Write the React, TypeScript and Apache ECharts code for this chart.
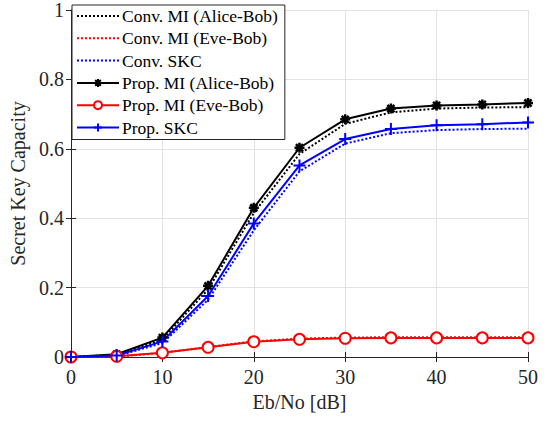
import React, { useEffect, useRef } from "react";
import * as echarts from "echarts";

const ebNo = [0, 5, 10, 15, 20, 25, 30, 35, 40, 45, 50];
const convMIAB = [0, 0.006, 0.05, 0.195, 0.415, 0.585, 0.672, 0.705, 0.716, 0.719, 0.72];
const convMIEB = [0, 0.001, 0.012, 0.029, 0.045, 0.053, 0.056, 0.057, 0.057, 0.057, 0.057];
const convSKC = [0, 0.003, 0.04, 0.165, 0.365, 0.535, 0.615, 0.645, 0.654, 0.657, 0.658];
const propMIAB = [0, 0.008, 0.056, 0.205, 0.43, 0.603, 0.685, 0.716, 0.725, 0.728, 0.732];
const propMIEB = [0, 0.002, 0.012, 0.028, 0.044, 0.051, 0.054, 0.055, 0.055, 0.055, 0.055];
const propSKC = [0, 0.004, 0.045, 0.176, 0.385, 0.552, 0.628, 0.657, 0.668, 0.671, 0.676];

const FONT = "Liberation Serif";
const ASTERISK =
  "path://M50 0 L50 100 M0 50 L100 50 M14.6 14.6 L85.4 85.4 M14.6 85.4 L85.4 14.6";
const PLUS = "path://M50 0 L50 100 M0 50 L100 50";

const pairs = (ys: number[]) => ebNo.map((x, i) => [x, ys[i]]);

export default function App() {
  const ref = useRef<HTMLDivElement>(null);
  useEffect(() => {
    if (!ref.current) return;
    const chart = echarts.init(ref.current, undefined, { renderer: "svg" });
    const axisCommon = {
      axisLine: { show: true, lineStyle: { color: "#262626", width: 1 } },
      axisTick: { show: true, inside: true, length: 5, lineStyle: { color: "#262626" } },
    };
    const dotted = (name: string, data: number[], color: string) => ({
      name,
      type: "line",
      data: pairs(data),
      showSymbol: false,
      symbol: "circle",
      symbolSize: 0,
      lineStyle: { color, width: 2, type: [2, 2] },
      itemStyle: { color: "rgba(0,0,0,0)", borderColor: "rgba(0,0,0,0)", borderWidth: 0 },
      z: 2,
    });
    const labelStyle = { fontFamily: FONT, fontSize: 20, color: "#262626" };
    chart.setOption({
      animation: false,
      backgroundColor: "#fff",
      textStyle: { fontFamily: FONT },
      grid: { left: 71, right: 24, top: 5, bottom: 64, show: false },
      legend: {
        left: 72,
        top: 5,
        orient: "vertical",
        backgroundColor: "#fff",
        borderColor: "#262626",
        borderWidth: 1,
        borderRadius: 0,
        padding: [2, 7, 3, 4],
        itemWidth: 42,
        itemHeight: 10,
        itemGap: 4.3,
        textStyle: {
          fontFamily: FONT,
          fontSize: 17.5,
          lineHeight: 17.5,
          color: "#000",
          padding: [0, 0, 0, -2],
        },
        data: [
          "Conv. MI (Alice-Bob)",
          "Conv. MI (Eve-Bob)",
          "Conv. SKC",
          "Prop. MI (Alice-Bob)",
          "Prop. MI (Eve-Bob)",
          "Prop. SKC",
        ],
      },
      xAxis: [
        {
          type: "value",
          min: 0,
          max: 50,
          interval: 10,
          name: "Eb/No [dB]",
          nameLocation: "middle",
          nameGap: 33,
          nameTextStyle: labelStyle,
          axisLabel: { ...labelStyle, margin: 10 },
          splitLine: { show: true, lineStyle: { color: "#e3e3e3", width: 1 } },
          ...axisCommon,
        },
        {
          type: "value",
          position: "top",
          min: 0,
          max: 50,
          interval: 10,
          axisLabel: { show: false },
          splitLine: { show: false },
          ...axisCommon,
        },
      ],
      yAxis: [
        {
          type: "value",
          min: 0,
          max: 1,
          interval: 0.2,
          name: "Secret Key Capacity",
          nameLocation: "middle",
          nameGap: 39,
          nameTextStyle: labelStyle,
          axisLabel: {
            ...labelStyle,
            margin: 7,
            formatter: (v: number) => String(Math.round(v * 10) / 10),
          },
          splitLine: { show: true, lineStyle: { color: "#e3e3e3", width: 1 } },
          ...axisCommon,
        },
        {
          type: "value",
          position: "right",
          min: 0,
          max: 1,
          interval: 0.2,
          axisLabel: { show: false },
          splitLine: { show: false },
          ...axisCommon,
        },
      ],
      series: [
        dotted("Conv. MI (Alice-Bob)", convMIAB, "#000000"),
        dotted("Conv. MI (Eve-Bob)", convMIEB, "#ff0000"),
        dotted("Conv. SKC", convSKC, "#0000ff"),
        {
          name: "Prop. MI (Alice-Bob)",
          type: "line",
          data: pairs(propMIAB),
          symbol: ASTERISK,
          symbolSize: 10,
          lineStyle: { color: "#000", width: 2 },
          itemStyle: { color: "#000", borderColor: "#000", borderWidth: 2.5 },
          z: 3,
        },
        {
          name: "Prop. MI (Eve-Bob)",
          type: "line",
          data: pairs(propMIEB),
          symbol: "emptyCircle",
          symbolSize: 11,
          lineStyle: { color: "#ff0000", width: 2 },
          itemStyle: { color: "#ff0000", borderColor: "#ff0000", borderWidth: 2 },
          z: 3,
        },
        {
          name: "Prop. SKC",
          type: "line",
          data: pairs(propSKC),
          symbol: PLUS,
          symbolSize: 12,
          lineStyle: { color: "#0000ff", width: 2 },
          itemStyle: { color: "#0000ff", borderColor: "#0000ff", borderWidth: 2 },
          z: 3,
        },
      ],
    });
    return () => chart.dispose();
  }, []);
  return (
    <div
      ref={ref}
      style={{ width: 552, height: 421, position: "absolute", left: 0, top: 0 }}
    />
  );
}
